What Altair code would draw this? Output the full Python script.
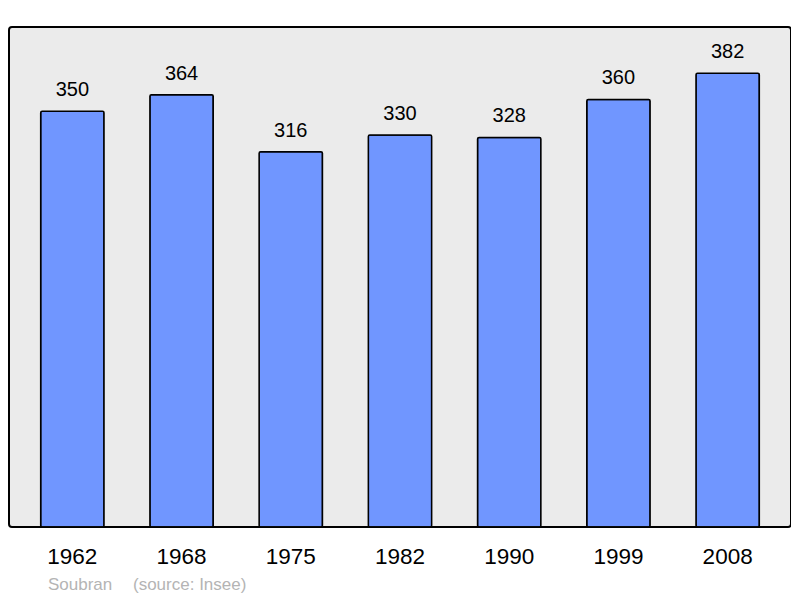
import altair as alt
import pandas as pd

years = ["1962", "1968", "1975", "1982", "1990", "1999", "2008"]
population = [350, 364, 316, 330, 328, 360, 382]
commune = "Soubran"
source = "(source: Insee)"

df = pd.DataFrame({"year": years, "pop": population})

FONT = "Liberation Sans"

x = alt.X("year:N", sort=years,
          scale=alt.Scale(paddingInner=0.42, paddingOuter=0.29),
          axis=alt.Axis(title=None, domain=False, ticks=False, tickSize=0,
                        labelFontSize=22.5, labelFont=FONT, labelColor="black",
                        labelAngle=0, labelBaseline="alphabetic",
                        labelPadding=36))
y = alt.Y("pop:Q", scale=alt.Scale(domain=[0, 421], nice=False, zero=True),
          axis=None)

bars = alt.Chart(df).mark_bar(
    color="#7096ff", stroke="black", strokeWidth=1.5, cornerRadius=1.5
).encode(x=x, y=y)

labels = alt.Chart(df).mark_text(
    font=FONT, fontSize=20, color="black", baseline="alphabetic", dy=-15
).encode(x=x, y=y, text="pop:Q")

src = pd.DataFrame({"t": [commune, source], "px": [39, 124]})
foot = alt.Chart(src).mark_text(
    font=FONT, fontSize=17, color="#b4b4b4", align="left", baseline="alphabetic"
).encode(x=alt.X("px:Q", scale=None), y=alt.value(563), text="t:N")

chart = alt.layer(bars, labels, foot).properties(
    width=782, height=500,
    padding={"left": 1, "top": 19, "right": 0, "bottom": 5},
).configure_view(
    fill="#ebebeb", stroke="black", strokeWidth=2, cornerRadius=3
)

chart.save("out.html", embed_options={"renderer": "svg", "actions": False})
